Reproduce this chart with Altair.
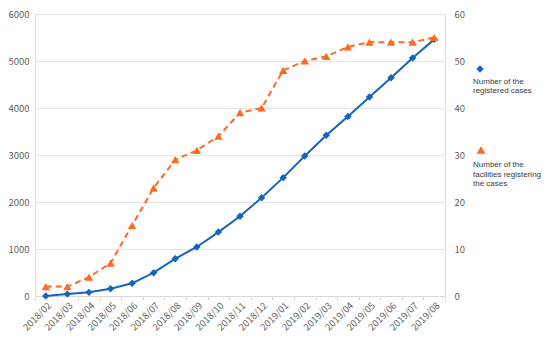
import altair as alt
import pandas as pd

months = ["2018/02", "2018/03", "2018/04", "2018/05", "2018/06", "2018/07", "2018/08",
          "2018/09", "2018/10", "2018/11", "2018/12", "2019/01", "2019/02", "2019/03",
          "2019/04", "2019/05", "2019/06", "2019/07", "2019/08"]
cases = [0, 40, 78, 156, 270, 496, 794, 1043, 1360, 1696, 2092, 2518, 2980, 3420,
         3820, 4235, 4645, 5065, 5460]
facilities = [2, 2, 4, 7, 15, 23, 29, 31, 34, 39, 40, 48, 50, 51, 53, 54, 54, 54, 55]

left_ticks = [0, 1000, 2000, 3000, 4000, 5000, 6000]
right_ticks = [0, 10, 20, 30, 40, 50, 60]

BLUE = "#1565BE"
ORANGE = "#FF6A21"
FONT = "Noto Sans CJK JP"
LEGFONT = "Liberation Sans"
GRAY = "#5f5f5f"

df = pd.DataFrame({"month": months, "cases": cases, "facilities": facilities})

W, H = 410, 282

xenc = alt.X("month:N", sort=months, title=None,
             scale=alt.Scale(type="band", paddingInner=0, paddingOuter=0),
             bandPosition=0.5,
             axis=alt.Axis(labelAngle=-45, labelFontSize=9.5, labelColor=GRAY, labelFont=FONT,
                           tickBand="extent", tickSize=4, tickColor="#d9d9d9",
                           domainColor="#d9d9d9", labelPadding=0, grid=False))

base = alt.Chart(df)

blue_line = base.mark_line(color=BLUE, strokeWidth=2).encode(
    x=xenc,
    y=alt.Y("cases:Q", title=None, scale=alt.Scale(domain=[0, 6000], nice=False),
            axis=alt.Axis(values=left_ticks, format="d", orient="left", domain=False, ticks=False,
                          labelPadding=6, labelFontSize=9.5, labelColor=GRAY, labelFont=FONT,
                          gridColor="#e3e3e3", grid=True)))
blue_pts = base.mark_point(shape="diamond", filled=True, color=BLUE, size=55, opacity=1).encode(
    x=xenc, y=alt.Y("cases:Q"))
left = alt.layer(blue_line, blue_pts)

orange_line = base.mark_line(color=ORANGE, strokeWidth=2, strokeDash=[6, 4]).encode(
    x=xenc,
    y=alt.Y("facilities:Q", title=None, scale=alt.Scale(domain=[0, 60], nice=False),
            axis=alt.Axis(values=right_ticks, format="d", orient="right", domain=False, ticks=False,
                          labelPadding=9, labelFontSize=9.5, labelColor=GRAY, labelFont=FONT,
                          grid=False)))
orange_pts = base.mark_point(shape="triangle-up", filled=True, color=ORANGE, size=70, opacity=1).encode(
    x=xenc, y=alt.Y("facilities:Q"))
right = alt.layer(orange_line, orange_pts)

# legend (placed to the right of the plot)
leg_sym = pd.DataFrame({"px": [445, 446], "py": [55, 136]})
leg_txt = pd.DataFrame({
    "px": [438, 438, 438, 438, 438],
    "py": [67.5, 77, 151, 160.5, 170],
    "t": ["Number of the", "registered cases", "Number of the",
          "facilities registering", "the cases"]})

sym1 = alt.Chart(leg_sym.iloc[[0]]).mark_point(shape="diamond", filled=True, color=BLUE,
                                               size=55, opacity=1).encode(
    x=alt.X("px:Q", scale=None), y=alt.Y("py:Q", scale=None))
sym2 = alt.Chart(leg_sym.iloc[[1]]).mark_point(shape="triangle-up", filled=True, color=ORANGE,
                                               size=80, opacity=1).encode(
    x=alt.X("px:Q", scale=None), y=alt.Y("py:Q", scale=None))
txt = alt.Chart(leg_txt).mark_text(align="left", baseline="middle", fontSize=8,
                                   font=LEGFONT, color="#3a3a3a").encode(
    x=alt.X("px:Q", scale=None), y=alt.Y("py:Q", scale=None), text="t:N")

chart = alt.layer(left, right, sym1, sym2, txt).resolve_scale(y="independent").properties(
    width=W, height=H,
    autosize=alt.AutoSizeParams(type="none"),
    padding={"left": 27, "top": 6, "right": 97, "bottom": 36},
).configure_view(stroke=None).configure(background="white")

chart.save("out.html", embed_options={"renderer": "svg", "actions": False})
